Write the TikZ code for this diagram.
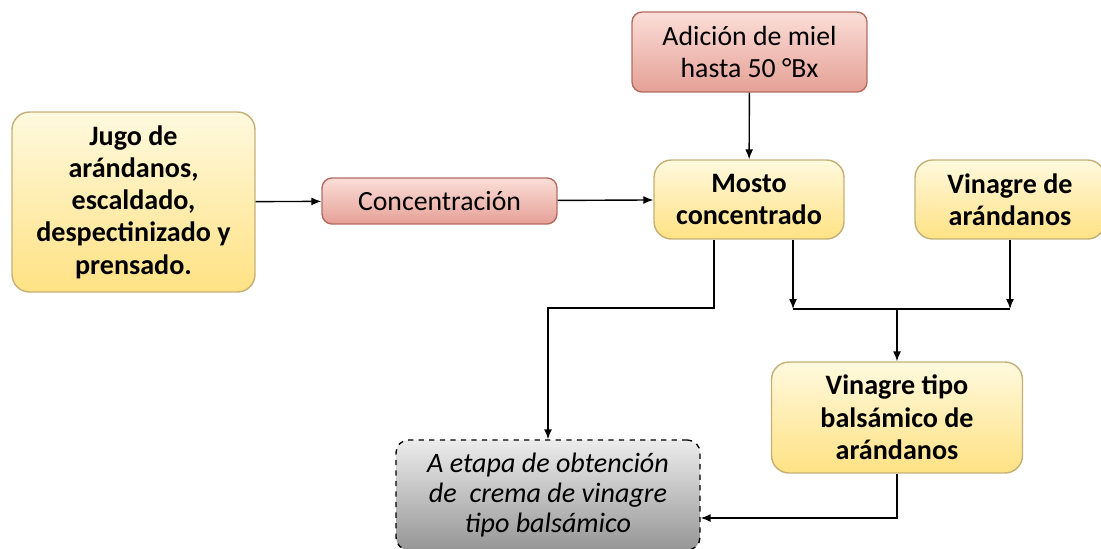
\documentclass[tikz,border=0pt]{standalone}
\usepackage{fontspec}
\setmainfont{Carlito}
\usetikzlibrary{arrows.meta}
\definecolor{amarilloA}{RGB}{255,249,222}
\definecolor{amarilloB}{RGB}{255,226,132}
\definecolor{bordeA}{RGB}{196,176,118}
\definecolor{rosaA}{RGB}{251,222,216}
\definecolor{rosaB}{RGB}{229,160,150}
\definecolor{bordeR}{RGB}{178,108,98}
\definecolor{grisA}{RGB}{236,236,236}
\definecolor{grisB}{RGB}{150,150,150}
\tikzset{
  caja/.style={draw=bordeA, line width=0.8pt, rounded corners=0.35cm, top color=amarilloA, bottom color=amarilloB, align=center, font=\fontsize{16}{18.4}\selectfont\bfseries, inner sep=0pt},
  paso/.style={draw=bordeR, line width=0.8pt, rounded corners=0.2cm, top color=rosaA, bottom color=rosaB, align=center, font=\fontsize{15.8}{18.2}\selectfont, inner sep=0pt},
  salida/.style={draw, dashed, line width=0.8pt, rounded corners=0.25cm, top color=grisA, bottom color=grisB, align=center, font=\fontsize{16}{17.2}\selectfont\itshape, inner sep=0pt},
  flecha/.style={-{Latex[length=2mm,width=1.6mm]}, line width=0.8pt},
  linea/.style={line width=0.8pt}
}
\begin{document}
\begin{tikzpicture}[x=0.02cm,y=-0.02cm]
    \useasboundingbox (0,0) rectangle (1101,548);
    % cajas
    \node[caja, minimum width=4.86cm, minimum height=3.6cm] (jugo) at (133.5,202) {Jugo de\\ arándanos,\\ escaldado,\\ despectinizado y\\ prensado.};
    \node[paso, minimum width=4.7cm, minimum height=0.92cm] (conc) at (439.5,201) {Concentración};
    \node[paso, minimum width=4.7cm, minimum height=1.6cm] (miel) at (749.5,52) {Adición de miel\\ hasta 50 °Bx};
    \node[caja, minimum width=3.8cm, minimum height=1.58cm] (mosto) at (749,199.5) {Mosto\\ concentrado};
    \node[caja, minimum width=3.8cm, minimum height=1.58cm] (vinagre) at (1010,199.5) {Vinagre de\\ arándanos};
    \node[caja, minimum width=5.02cm, minimum height=2.22cm] (balsa) at (897,417.5) {Vinagre tipo\\ balsámico de\\ arándanos};
    \node[salida, minimum width=6.08cm, minimum height=2.2cm] (crema) at (548,495) {A etapa de obtención\\ de\ \ crema de vinagre\\ tipo balsámico};
    % puntos de union
    \coordinate (split) at (714,308);
    \coordinate (ja) at (793,309);
    \coordinate (jb) at (1010,309);
    \coordinate (join) at (897,309);
    \coordinate (back) at (897,518);
    % flechas
    \draw[flecha] (jugo) -- (conc);
    \draw[flecha] (conc) -- (mosto);
    \draw[flecha] (miel) -- (mosto);
    \draw[flecha] (mosto.south -| split) -- (split) -| (crema.north);
    \draw[flecha] (mosto.south -| ja) -- (ja);
    \draw[flecha] (vinagre.south) -- (jb);
    \draw[linea] (ja) -- (jb);
    \draw[flecha] (join) -- (join |- balsa.north);
    \draw[flecha] (balsa.south -| back) -- (back) -- (crema.east |- back);
\end{tikzpicture}
\end{document}
